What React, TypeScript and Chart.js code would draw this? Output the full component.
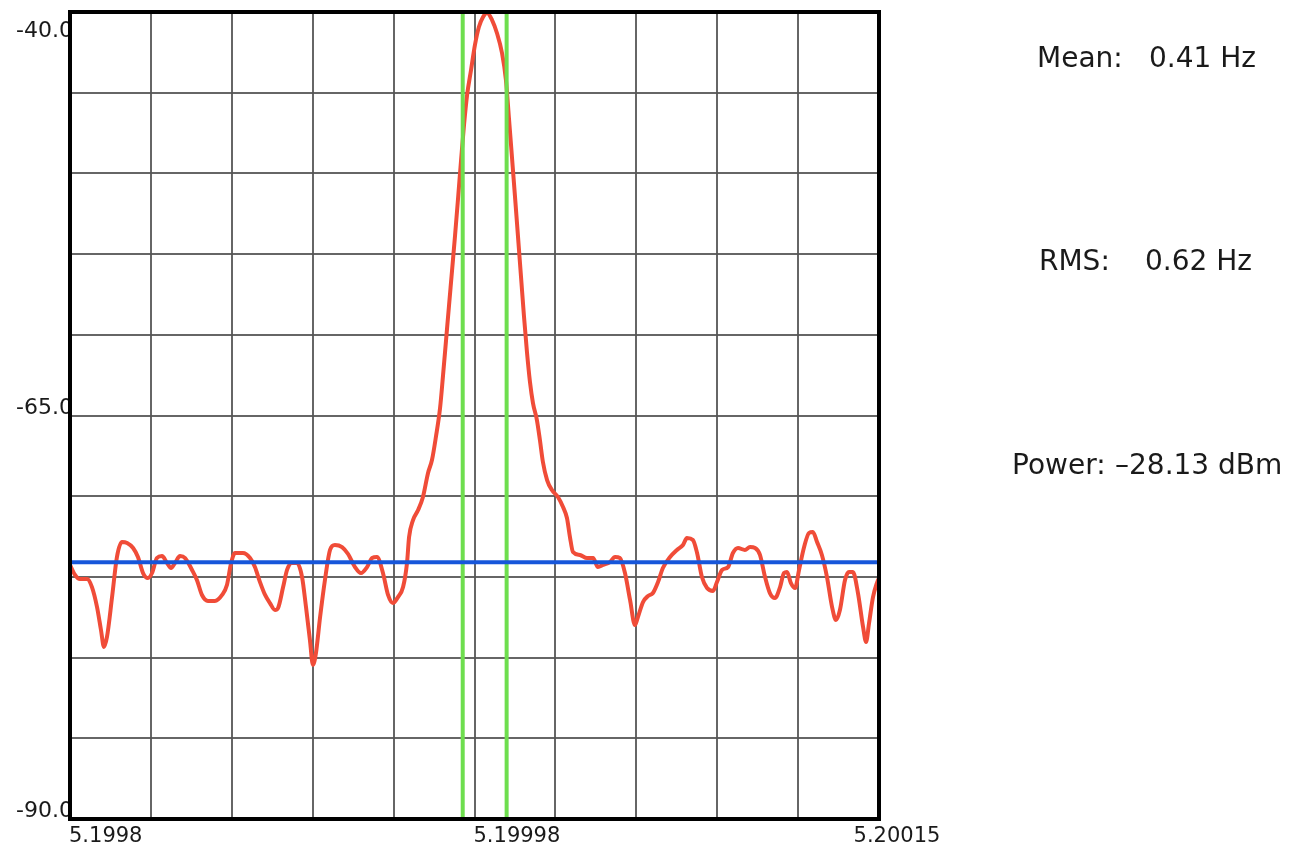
import React, { useEffect, useRef } from "react";
import { Chart, registerables } from "chart.js";

Chart.register(...registerables);

const freqs = [
  5.1998, 5.1998022, 5.1998043, 5.1998074, 5.1998095, 5.1998117, 5.1998134, 5.1998147, 5.199816, 5.1998182,
  5.1998203, 5.1998225, 5.1998247, 5.1998273, 5.1998294, 5.1998316, 5.1998337, 5.1998355, 5.1998376, 5.1998398,
  5.199842, 5.1998437, 5.1998454, 5.1998476, 5.1998498, 5.1998528, 5.1998549, 5.1998571, 5.1998597, 5.1998627,
  5.1998658, 5.1998679, 5.1998697, 5.1998714, 5.1998748, 5.1998779, 5.19988, 5.1998822, 5.1998844, 5.1998865,
  5.1998887, 5.19989, 5.1998922, 5.1998939, 5.199896, 5.1998982, 5.1999004, 5.1999021, 5.1999038, 5.1999051,
  5.1999064, 5.1999082, 5.1999103, 5.1999125, 5.1999146, 5.1999177, 5.1999203, 5.1999233, 5.1999259, 5.1999285,
  5.1999307, 5.1999328, 5.1999354, 5.1999376, 5.1999397, 5.1999419, 5.1999441, 5.1999458, 5.1999467, 5.1999484,
  5.1999506, 5.1999527, 5.1999549, 5.1999566, 5.1999583, 5.1999601, 5.1999614, 5.1999627, 5.199964, 5.1999653,
  5.1999666, 5.1999679, 5.1999692, 5.1999705, 5.1999718, 5.1999735, 5.1999752, 5.1999769, 5.1999787, 5.1999804,
  5.1999826, 5.1999847, 5.1999869, 5.1999886, 5.1999899, 5.1999912, 5.1999925, 5.1999938, 5.1999951, 5.1999964,
  5.1999977, 5.199999, 5.2000003, 5.200002, 5.2000033, 5.2000046, 5.2000064, 5.2000085, 5.2000111, 5.2000133,
  5.200015, 5.2000163, 5.2000176,
  5.2000206, 5.2000237, 5.2000263, 5.2000284, 5.2000306, 5.2000336, 5.2000358, 5.2000379, 5.2000401, 5.2000423,
  5.2000444, 5.2000457, 5.2000479, 5.2000501, 5.2000522, 5.2000544, 5.2000565, 5.2000596, 5.2000626, 5.2000652,
  5.2000669, 5.2000695, 5.2000713, 5.2000734, 5.2000756, 5.2000782, 5.2000799, 5.2000821, 5.2000847, 5.2000868,
  5.200089, 5.200092, 5.2000942, 5.2000964, 5.2000985, 5.2001007, 5.2001028, 5.200105, 5.2001072, 5.2001089,
  5.2001102, 5.2001119, 5.2001137, 5.2001154, 5.2001176, 5.2001197, 5.2001214, 5.2001232, 5.2001253, 5.2001275,
  5.2001297, 5.2001314, 5.2001331, 5.2001353, 5.200137, 5.2001387, 5.2001409, 5.2001431, 5.2001444, 5.2001457,
  5.2001474, 5.2001491, 5.20015,
];

const powerDbm = [
  -74.26, -74.88, -75.13, -75.13, -75.63, -76.87, -78.29, -79.34, -78.72, -76.25,
  -73.77, -72.84, -72.9, -73.21, -73.77, -74.76, -75.07, -74.76, -73.83, -73.71,
  -74.14, -74.45, -74.14, -73.71, -73.83, -74.57, -75.19, -76.12, -76.49, -76.49,
  -76.12, -75.5, -74.14, -73.52, -73.52, -73.83, -74.39, -75.32, -76.12, -76.62,
  -77.05, -76.93, -75.63, -74.57, -74.14, -74.14, -75.01, -76.87, -78.91, -80.46,
  -79.72, -77.49, -75.19, -73.33, -73.02, -73.15, -73.58, -74.39, -74.76, -74.39,
  -73.83, -73.77, -74.76, -76.12, -76.62, -76.25, -75.63, -74.14, -72.53, -71.48,
  -70.86, -70.05, -68.56, -67.76, -66.33, -64.54, -62.49, -60.32, -58.15, -55.99,
  -53.82, -51.52, -49.17, -46.94, -45.14, -43.59, -42.04, -40.93, -40.31, -40.06,
  -40.5, -41.3, -42.54, -44.21, -46.57, -48.98, -51.4, -53.88, -56.36, -58.84,
  -61.07, -62.92, -64.23, -65.28, -66.52, -67.88, -69.0, -69.62, -70.05, -70.67,
  -71.35, -72.53, -73.46,
  -73.64, -73.83, -73.83, -74.39, -74.26, -74.08, -73.77, -73.83, -74.76, -76.43,
  -77.98, -77.49, -76.56, -76.18, -76.0, -75.32, -74.45, -73.77, -73.33, -73.02,
  -72.59, -72.71, -73.52, -75.01, -75.69, -75.87, -75.32, -74.57, -74.39, -73.52,
  -73.21, -73.33, -73.15, -73.21, -73.64, -75.01, -76.0, -76.31, -75.63, -74.76,
  -74.7, -75.38, -75.69, -74.57, -73.15, -72.28, -72.22, -72.84, -73.64, -75.01,
  -76.87, -77.67, -77.05, -75.19, -74.7, -74.7, -76.0, -78.1, -79.03, -77.86,
  -76.25, -75.38, -75.07,
];

const xGrid = [5.1998, 5.199835, 5.19987, 5.199905, 5.19994, 5.199975, 5.20001, 5.200045, 5.20008, 5.200115, 5.20015];
const yGrid = [-90, -85, -80, -75, -70, -65, -60, -55, -50, -45, -40];
const xTickValues = [5.1998, 5.199975, 5.20015];
const xTickLabels = ["5.1998", "5.19998", "5.20015"];
const yTickValues = [-40, -65, -90];
const yTickLabels = ["-40.0", "-65.0", "-90.0"];
const meanLevel = -74.1;
const markerFreqs = [5.1999699, 5.1999889];
const statLabels = ["Mean:", "RMS:", "Power:"];
const statValues = ["0.41 Hz", "0.62 Hz", "\u201328.13 dBm"];

const FONT = '"DejaVu Sans", "Lucida Grande", Verdana, sans-serif';

const framePlugin = {
  id: "frameAndLabels",
  afterDraw(chart: any) {
    const { ctx, chartArea: a, scales } = chart;
    ctx.save();
    ctx.fillStyle = "#1a1a1a";
    ctx.textBaseline = "alphabetic";
    ctx.textAlign = "right";
    ctx.font = `22px ${FONT}`;
    yTickValues.forEach((v, i) => {
      let y = scales.y.getPixelForValue(v) - 2;
      y = Math.max(y, a.top + 25);
      ctx.fillText(yTickLabels[i], a.left + 3, y);
    });
    ctx.font = `21px ${FONT}`;
    xTickValues.forEach((v, i) => {
      const x = scales.x.getPixelForValue(v);
      if (i === xTickValues.length - 1) {
        ctx.textAlign = "center";
        ctx.fillText(xTickLabels[i], x + 18, a.bottom + 23);
      } else {
        ctx.textAlign = "left";
        ctx.fillText(xTickLabels[i], x - 1, a.bottom + 23);
      }
    });
    ctx.strokeStyle = "#000";
    ctx.lineWidth = 4;
    ctx.strokeRect(a.left, a.top, a.right - a.left, a.bottom - a.top);
    ctx.restore();
  },
};

export default function App() {
  const ref = useRef<HTMLCanvasElement | null>(null);

  useEffect(() => {
    if (!ref.current) return;
    const spectrum = freqs.map((f, i) => ({ x: f, y: powerDbm[i] }));
    const chart = new Chart(ref.current, {
      type: "scatter",
      data: {
        datasets: [
          {
            data: [
              { x: freqs[0], y: meanLevel },
              { x: freqs[freqs.length - 1], y: meanLevel },
            ],
            showLine: true,
            borderColor: "rgb(22, 86, 218)",
            borderWidth: 4,
            pointRadius: 0,
          },
          ...markerFreqs.map((f) => ({
            data: [
              { x: f, y: -90 },
              { x: f, y: -40 },
            ],
            showLine: true,
            borderColor: "rgb(110, 222, 78)",
            borderWidth: 4,
            pointRadius: 0,
          })),
          {
            data: spectrum,
            showLine: true,
            borderColor: "rgb(240, 76, 56)",
            borderWidth: 4,
            pointRadius: 0,
            cubicInterpolationMode: "monotone",
          },
        ],
      },
      options: {
        animation: false,
        responsive: false,
        devicePixelRatio: 1,
        layout: { padding: { left: 70, top: 12, right: 428, bottom: 30 } },
        plugins: { legend: { display: false }, tooltip: { enabled: false } },
        scales: {
          x: {
            type: "linear",
            min: 5.1998,
            max: 5.20015,
            afterBuildTicks: (scale: any) => {
              scale.ticks = xGrid.map((v) => ({ value: v }));
            },
            ticks: { display: false },
            grid: { color: "rgba(85,85,85,0.9)", lineWidth: 2, drawTicks: false },
            border: { display: false },
          },
          y: {
            type: "linear",
            min: -90,
            max: -40,
            afterBuildTicks: (scale: any) => {
              scale.ticks = yGrid.map((v) => ({ value: v }));
            },
            ticks: { display: false },
            grid: { color: "rgba(85,85,85,0.9)", lineWidth: 2, drawTicks: false },
            border: { display: false },
          },
        },
      },
      plugins: [framePlugin],
    });
    return () => chart.destroy();
  }, []);

  const statTops = [44, 247, 451];
  const labelLefts = [1037, 1039, 1012];
  const valueLefts = [1149, 1145, 1115];

  const textStyle = {
    position: "absolute" as const,
    fontFamily: FONT,
    fontSize: 28,
    lineHeight: "28px",
    color: "#1a1a1a",
    whiteSpace: "pre" as const,
  };

  return (
    <div style={{ position: "absolute", left: 0, top: 0, width: 1307, height: 849, background: "#fff" }}>
      <canvas ref={ref} width={1307} height={849} style={{ position: "absolute", left: 0, top: 0 }} />
      {statLabels.map((lab, i) => (
        <React.Fragment key={lab}>
          <div style={{ ...textStyle, left: labelLefts[i], top: statTops[i] }}>{lab}</div>
          <div style={{ ...textStyle, left: valueLefts[i], top: statTops[i] }}>{statValues[i]}</div>
        </React.Fragment>
      ))}
    </div>
  );
}
